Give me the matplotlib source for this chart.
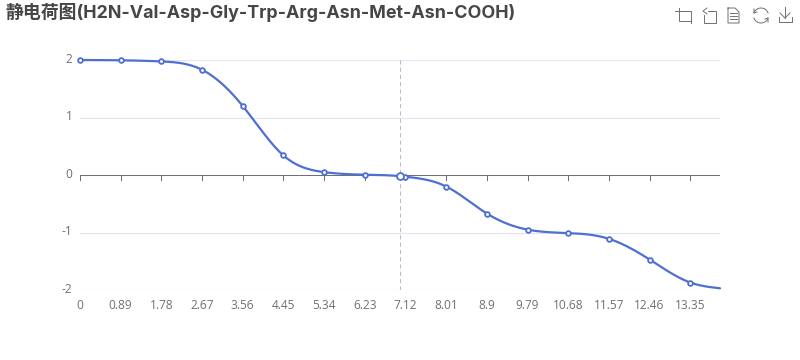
import numpy as np
import matplotlib
matplotlib.use("Agg")
import matplotlib.pyplot as plt
from matplotlib.lines import Line2D
from matplotlib.transforms import Affine2D, ScaledTranslation

FONT = ['Open Sans', 'Noto Sans CJK SC', 'DejaVu Sans']
TITLE_FONT = ['Inter', 'Noto Sans CJK SC', 'DejaVu Sans']
plt.rcParams['font.family'] = FONT

title = "静电荷图(H2N-Val-Asp-Gly-Trp-Arg-Asn-Met-Asn-COOH)"
ph = [0, 0.89, 1.78, 2.67, 3.56, 4.45, 5.34, 6.23, 7.0, 7.12, 8.01, 8.9, 9.79, 10.68, 11.57, 12.46, 13.35, 14.0]
charge = [2.0, 1.995, 1.975, 1.83, 1.2, 0.34, 0.05, 0.005, -0.02, -0.03, -0.2, -0.67, -0.95, -1.01, -1.11, -1.47, -1.87, -1.97]
tick_values = [0, 0.89, 1.78, 2.67, 3.56, 4.45, 5.34, 6.23, 7.12, 8.01, 8.9, 9.79, 10.68, 11.57, 12.46, 13.35]
tick_labels = ["0", "0.89", "1.78", "2.67", "3.56", "4.45", "5.34", "6.23", "7.12", "8.01", "8.9", "9.79", "10.68", "11.57", "12.46", "13.35"]
y_ticks = [-2, -1, 0, 1, 2]
y_labels = ["-2", "-1", "0", "1", "2"]
hover_ph = 7.0
hover_charge = -0.02

W, H = 800, 360
LINE = "#4F6FD3"
AXIS = "#6E7079"
GRID = "#E0E6F1"

fig = plt.figure(figsize=(W / 100, H / 100), dpi=100, facecolor="white")
ax = fig.add_axes([80 / W, 1 - 290 / H, 640 / W, 230 / H])
ax.set_xlim(0, 14)
ax.set_ylim(-2, 2)
for s in ax.spines.values():
    s.set_visible(False)
ax.patch.set_visible(False)


def smooth(x, y, n=30):
    """Natural cubic spline drawing of the line between the data points."""
    x, y = np.asarray(x, float), np.asarray(y, float)
    h = np.diff(x)
    A = np.zeros((len(x), len(x)))
    b = np.zeros(len(x))
    A[0, 0] = A[-1, -1] = 1
    for i in range(1, len(x) - 1):
        A[i, i - 1], A[i, i], A[i, i + 1] = h[i - 1], 2 * (h[i - 1] + h[i]), h[i]
        b[i] = 6 * ((y[i + 1] - y[i]) / h[i] - (y[i] - y[i - 1]) / h[i - 1])
    c = np.linalg.solve(A, b)
    xs, ys = [], []
    for i in range(len(h)):
        t = np.linspace(0, 1, n)
        u = 1 - t
        xs.append(x[i] + t * h[i])
        ys.append(u * y[i] + t * y[i + 1] + h[i] ** 2 / 6 * ((u ** 3 - u) * c[i] + (t ** 3 - t) * c[i + 1]))
    return np.concatenate(xs), np.concatenate(ys)


for v in y_ticks:
    if v != 0:
        ax.axhline(v, color=GRID, lw=0.85, zorder=1)
ax.axhline(0, color=AXIS, lw=0.75, zorder=2)
ax.axvline(hover_ph, color="#B6BBCF", lw=0.75, ls=(0, (4, 3)), zorder=2)

sx, sy = smooth(ph, charge)
ax.plot(sx, sy, color=LINE, lw=1.6, zorder=3, clip_on=False, solid_capstyle="round")

mx = [p for p, c in zip(ph, charge) if p in tick_values]
my = [c for p, c in zip(ph, charge) if p in tick_values]
ax.plot(mx, my, ls="none", marker="o", ms=3.4, mfc="white", mec=LINE, mew=1.3, zorder=4, clip_on=False)
ax.plot([hover_ph], [hover_charge], ls="none", marker="o", ms=5, mfc="white", mec=LINE, mew=1.3, zorder=5, clip_on=False)

# ticks hang from the zero line; labels sit below the plot
for v, lab in zip(tick_values, tick_labels):
    ax.plot([v, v], [0, -5 / 57.5], color=AXIS, lw=0.75, zorder=2, clip_on=False)
    ax.annotate(lab, (v, -2), xytext=(0, -6.5), textcoords="offset points", ha="center", va="top",
                fontsize=8.6, color=AXIS)
ax.set_xticks([])
ax.set_yticks(y_ticks, y_labels)
ax.tick_params(axis="y", length=0, pad=5.5, labelsize=8.6, labelcolor=AXIS)
offset = ScaledTranslation(0, 1.5 / 72, fig.dpi_scale_trans)
for lab in ax.get_yticklabels():
    lab.set_transform(lab.get_transform() + offset)

fig.text(5 / W, 1 - 12 / H, title, fontsize=12.87, fontweight="bold", color="#464646", va="center", ha="left",
         family=TITLE_FONT)

# toolbox icons, in pixels from the top-left of the figure
px = Affine2D().scale(1, -1).translate(0, H)
ICON = "#6E7079"


def stroke(xs, ys):
    fig.add_artist(Line2D(xs, ys, transform=px, color=ICON, lw=0.7, solid_joinstyle="miter"))


stroke([675, 691, 691], [11, 11, 23])
stroke([679, 679, 691], [8, 21, 21])
stroke([708, 716, 716, 704, 704], [11, 11, 23, 23, 15])
stroke([707, 703, 707], [8, 11, 14])
stroke([728, 735, 739, 739, 728, 728], [8, 8, 12, 23, 23, 8])
for yy in (13, 16, 19):
    stroke([730, 737], [yy, yy])
t = np.radians(np.arange(20, 165, 5))
stroke(761 + 7.5 * np.cos(t), 15.5 - 7.5 * np.sin(t))
stroke(761 + 7.5 * np.cos(t + np.pi), 15.5 - 7.5 * np.sin(t + np.pi))
stroke([754, 754, 757], [9, 13, 12])
stroke([768, 768, 765], [22, 18, 19])
stroke([785, 785], [7, 18])
stroke([780, 785, 790], [13, 18, 13])
stroke([779, 779, 792, 792], [17, 22, 22, 17])

fig.savefig("out.png", dpi=100)
